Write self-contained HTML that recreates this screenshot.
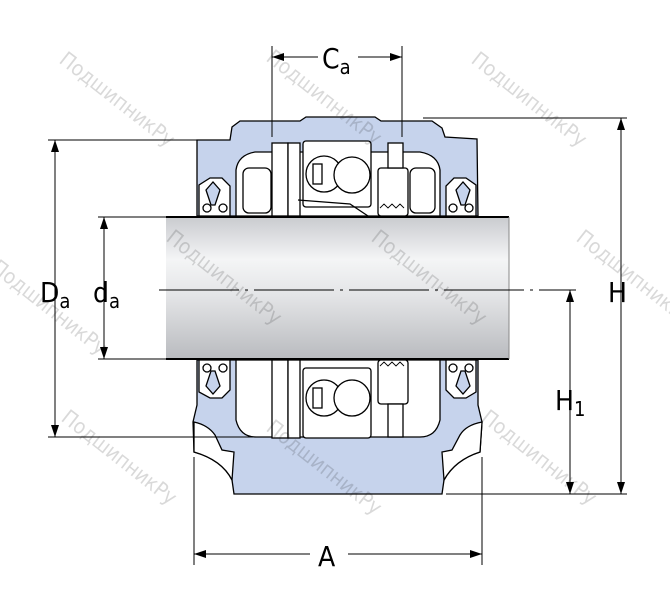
<!DOCTYPE html>
<html><head><meta charset="utf-8"><style>
html,body{margin:0;padding:0;background:#fff;}
svg{display:block;}
text{font-family:"DejaVu Sans Condensed","Liberation Sans",sans-serif;}
</style></head><body>
<svg width="670" height="591" viewBox="0 0 670 591" xmlns="http://www.w3.org/2000/svg">
<defs>
<linearGradient id="sh" x1="0" y1="0" x2="0" y2="1">
<stop offset="0" stop-color="#c9cbcf"/><stop offset="0.3" stop-color="#f4f5f6"/><stop offset="0.55" stop-color="#e4e5e7"/><stop offset="1" stop-color="#b9bbbf"/>
</linearGradient>
<marker id="ar" markerWidth="12" markerHeight="8" refX="12" refY="4" orient="auto-start-reverse" markerUnits="userSpaceOnUse"><path d="M0,0 L12,4 L0,8 z" fill="#000"/></marker>
</defs>
<g stroke="#000" stroke-width="1.3" fill="#c6d3ec">
<path d="M197,140 L230,140 L232,127 L240,121 L300,121 L306,117 L375,117 L381,121 L432,121 L442,128 L445,137 L477,139 L478,216 L197,216 Z"/>
<path d="M236,216 L236,170 Q238,155 255,152 L420,152 Q438,155 440,170 L440,216 Z" fill="#fff"/>
<path d="M199,216 L199,185 L210,178 L222,178 L230,186 L230,216 Z" fill="#fff"/>
<path d="M446,216 L446,186 L454,178 L466,178 L476,185 L476,216 Z" fill="#fff"/>
<path d="M206,190 L213,182 L220,190 L215,205 L211,205 Z" fill="#c6d3ec"/>
<path d="M456,190 L463,182 L470,190 L465,205 L461,205 Z" fill="#c6d3ec"/>
<circle cx="207" cy="208" r="4" fill="#fff"/><circle cx="223" cy="208" r="4" fill="#fff"/>
<circle cx="453" cy="208" r="4" fill="#fff"/><circle cx="469" cy="208" r="4" fill="#fff"/>
<rect x="272" y="143" width="16" height="73" fill="#fff"/>
<rect x="288" y="143" width="12" height="73" fill="#fff"/>
<rect x="303" y="141" width="68" height="66" rx="3" fill="#fff"/>
<rect x="378" y="168" width="30" height="48" rx="3" fill="#fff"/>
<rect x="388" y="143" width="15" height="25" fill="#fff"/>
<rect x="243" y="168" width="28" height="45" rx="6" fill="#fff"/>
<rect x="410" y="168" width="25" height="45" rx="6" fill="#fff"/>
<circle cx="324" cy="174" r="18" fill="#fff"/><circle cx="352" cy="175" r="18" fill="#fff"/>
<rect x="313" y="164" width="9" height="20" fill="#fff"/>
<path d="M298,200 L350,204 L368,216" fill="none"/>
<path d="M380,208 l4,-4 l4,4 l4,-4 l4,4 l4,-4 l4,4" fill="none" stroke-width="0.9"/>
<path d="M197,360 L478,360 L478,405 L482,422 L480,452 Q455,460 444,480 L442,494 L234,494 L232,480 Q222,460 194,452 L193,422 L197,405 Z"/>
<path d="M194,422 Q208,425 215,435 L222,450 L234,452 L232,480 Q222,460 194,452 Z" fill="#fff"/>
<path d="M482,422 Q466,425 460,435 L452,450 L442,452 L444,480 Q455,460 480,452 Z" fill="#fff"/>
<path d="M236,360 L236,420 Q240,437 256,437 L420,437 Q436,437 440,420 L440,360 Z" fill="#fff"/>
<path d="M199,360 L199,392 L210,398 L222,398 L230,390 L230,360 Z" fill="#fff"/>
<path d="M446,360 L446,390 L454,398 L466,398 L476,392 L476,360 Z" fill="#fff"/>
<path d="M206,386 L213,394 L220,386 L215,371 L211,371 Z" fill="#c6d3ec"/>
<path d="M456,386 L463,394 L470,386 L465,371 L461,371 Z" fill="#c6d3ec"/>
<circle cx="207" cy="368" r="4" fill="#fff"/><circle cx="223" cy="368" r="4" fill="#fff"/>
<circle cx="453" cy="368" r="4" fill="#fff"/><circle cx="469" cy="368" r="4" fill="#fff"/>
<rect x="272" y="360" width="16" height="78" fill="#fff"/>
<rect x="288" y="360" width="12" height="78" fill="#fff"/>
<rect x="303" y="368" width="68" height="70" rx="3" fill="#fff"/>
<rect x="378" y="360" width="30" height="44" rx="3" fill="#fff"/>
<rect x="388" y="404" width="15" height="33" fill="#fff"/>
<circle cx="324" cy="398" r="18" fill="#fff"/><circle cx="352" cy="398" r="18" fill="#fff"/>
<rect x="313" y="388" width="9" height="20" fill="#fff"/>
<path d="M380,366 l4,-4 l4,4 l4,-4 l4,4 l4,-4 l4,4" fill="none" stroke-width="0.9"/>
</g>
<rect x="166" y="217" width="343" height="142" fill="url(#sh)"/>
<line x1="166" y1="217" x2="509" y2="217" stroke="#000" stroke-width="2"/>
<line x1="166" y1="359" x2="509" y2="359" stroke="#000" stroke-width="2"/>
<line x1="509" y1="217" x2="509" y2="359" stroke="#888" stroke-width="1"/>
<line x1="159" y1="290" x2="576" y2="290" stroke="#000" stroke-width="1" stroke-dasharray="80,6,3,6"/>
<g stroke="#000" stroke-width="1" fill="none">
<line x1="272" y1="46" x2="272" y2="137"/><line x1="402" y1="46" x2="402" y2="137"/>
<line x1="272" y1="57" x2="318" y2="57" marker-start="url(#ar)"/><line x1="358" y1="57" x2="402" y2="57" marker-end="url(#ar)"/>
<line x1="48" y1="140" x2="197" y2="140"/><line x1="48" y1="437" x2="272" y2="437"/>
<line x1="55" y1="140" x2="55" y2="437" marker-start="url(#ar)" marker-end="url(#ar)"/>
<line x1="98" y1="217" x2="166" y2="217"/><line x1="98" y1="359" x2="166" y2="359"/>
<line x1="104" y1="217" x2="104" y2="359" marker-start="url(#ar)" marker-end="url(#ar)"/>
<line x1="423" y1="118" x2="627" y2="118"/><line x1="446" y1="494" x2="627" y2="494"/>
<line x1="621" y1="118" x2="621" y2="494" marker-start="url(#ar)" marker-end="url(#ar)"/>
<line x1="570" y1="290" x2="570" y2="494" marker-start="url(#ar)" marker-end="url(#ar)"/>
<line x1="194" y1="457" x2="194" y2="565"/><line x1="482" y1="457" x2="482" y2="565"/>
<line x1="194" y1="554" x2="310" y2="554" marker-start="url(#ar)"/><line x1="348" y1="554" x2="482" y2="554" marker-end="url(#ar)"/>
</g>
<g fill="#000" font-size="28">
<text x="322" y="68">C<tspan font-size="20" dy="6">a</tspan></text>
<text x="40" y="302">D<tspan font-size="20" dy="6">a</tspan></text>
<text x="93" y="302">d<tspan font-size="20" dy="6">a</tspan></text>
<text x="608" y="302">H</text>
<text x="555" y="410">H<tspan font-size="20" dy="6">1</tspan></text>
<text x="318" y="566">A</text>
</g>
<g fill="#000" fill-opacity="0.15" font-family="Liberation Serif,serif" font-size="21">
<text transform="translate(58,62) rotate(38)">ПодшипникРу</text>
<text transform="translate(470,62) rotate(38)">ПодшипникРу</text>
<text transform="translate(265,60) rotate(38)">ПодшипникРу</text>
<text transform="translate(165,240) rotate(38)">ПодшипникРу</text>
<text transform="translate(370,240) rotate(38)">ПодшипникРу</text>
<text transform="translate(575,240) rotate(38)">ПодшипникРу</text>
<text transform="translate(-10,270) rotate(38)">ПодшипникРу</text>
<text transform="translate(60,420) rotate(38)">ПодшипникРу</text>
<text transform="translate(265,430) rotate(38)">ПодшипникРу</text>
<text transform="translate(480,420) rotate(38)">ПодшипникРу</text>
</g>
</svg>
</body></html>
